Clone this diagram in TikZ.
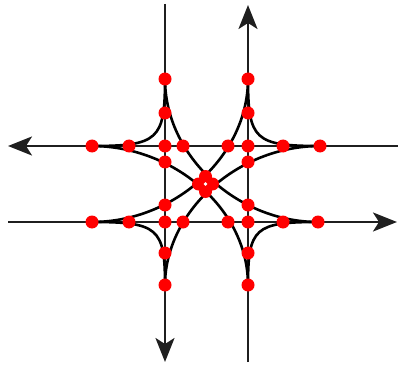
\documentclass[tikz,border=0pt]{standalone}
\usetikzlibrary{arrows.meta}
\pgfdeclarelayer{fg}
\pgfsetlayers{main,fg}
\begin{document}
\begin{tikzpicture}[x=1pt,y=-1pt,
  road/.style={line width=2.4pt, black!88},
  turn/.style={line width=2.6pt, black},
  dot/.style={circle, fill=red, draw=none, minimum size=13pt, inner sep=0pt},
  tip/.style={-{Stealth[length=24pt,width=19pt,inset=6pt]}}]
\useasboundingbox (0,0) rectangle (398,366);
% free ends of the roads
\coordinate (v1s) at (165,4);
\coordinate (v1e) at (165,362);
\coordinate (v2s) at (248,362);
\coordinate (v2e) at (248,5);
\coordinate (h1s) at (398,146);
\coordinate (h1e) at (8,146);
\coordinate (h2s) at (8,222);
\coordinate (h2e) at (397,222);
\coordinate (mid) at (205.5,184);
\begin{pgfonlayer}{fg}
% left vertical
\node[dot] (a1) at (165,79) {};
\node[dot] (a2) at (165,113) {};
\node[dot] (a3) at (165,146) {};
\node[dot] (a4) at (165,162) {};
\node[dot] (a5) at (165,205) {};
\node[dot] (a6) at (165,222) {};
\node[dot] (a7) at (165,253) {};
\node[dot] (a8) at (165,285) {};
% right vertical
\node[dot] (b1) at (248,79) {};
\node[dot] (b2) at (248,113) {};
\node[dot] (b3) at (248,146) {};
\node[dot] (b4) at (248,162) {};
\node[dot] (b5) at (248,205) {};
\node[dot] (b6) at (248,222) {};
\node[dot] (b7) at (248,253) {};
\node[dot] (b8) at (248,285) {};
% top horizontal
\node[dot] (c1) at (92,146) {};
\node[dot] (c2) at (129,146) {};
\node[dot] (c3) at (183,146) {};
\node[dot] (c4) at (228,146) {};
\node[dot] (c5) at (283,146) {};
\node[dot] (c6) at (320,146) {};
% bottom horizontal
\node[dot] (d1) at (92,222) {};
\node[dot] (d2) at (129,222) {};
\node[dot] (d3) at (183,222) {};
\node[dot] (d4) at (228,222) {};
\node[dot] (d5) at (283,222) {};
\node[dot] (d6) at (318,222) {};
% centre
\node[dot] (e1) at (205.5,176.5) {};
\node[dot] (e2) at (198.5,184) {};
\node[dot] (e3) at (212.5,184) {};
\node[dot] (e4) at (205.5,191.5) {};
\fill[white] (mid) circle[radius=1.8pt];
\end{pgfonlayer}
% roads
\draw[road,tip] (v1s) -- (v1e);
\draw[road,tip] (v2s) -- (v2e);
\draw[road,tip] (h1s) -- (h1e);
\draw[road,tip] (h2s) -- (h2e);
% left turns
\draw[turn] (a1.center) .. controls +(0,77) and +(-81,0) .. (d6.center);
\draw[turn] (b8.center) .. controls +(0,-77) and +(81,0) .. (c1.center);
\draw[turn] (d1.center) .. controls +(83,0) and +(0,77) .. (b1.center);
\draw[turn] (c6.center) .. controls +(-84,0) and +(0,-72) .. (a8.center);
% right turns
\draw[turn] (a1.center) .. controls +(0,61) and +(66,0) .. (c1.center);
\draw[turn] (c6.center) .. controls +(-65,0) and +(0,61) .. (b1.center);
\draw[turn] (b8.center) .. controls +(0,-57) and +(-63,0) .. (d6.center);
\draw[turn] (d1.center) .. controls +(66,0) and +(0,-57) .. (a8.center);
\end{tikzpicture}
\end{document}
